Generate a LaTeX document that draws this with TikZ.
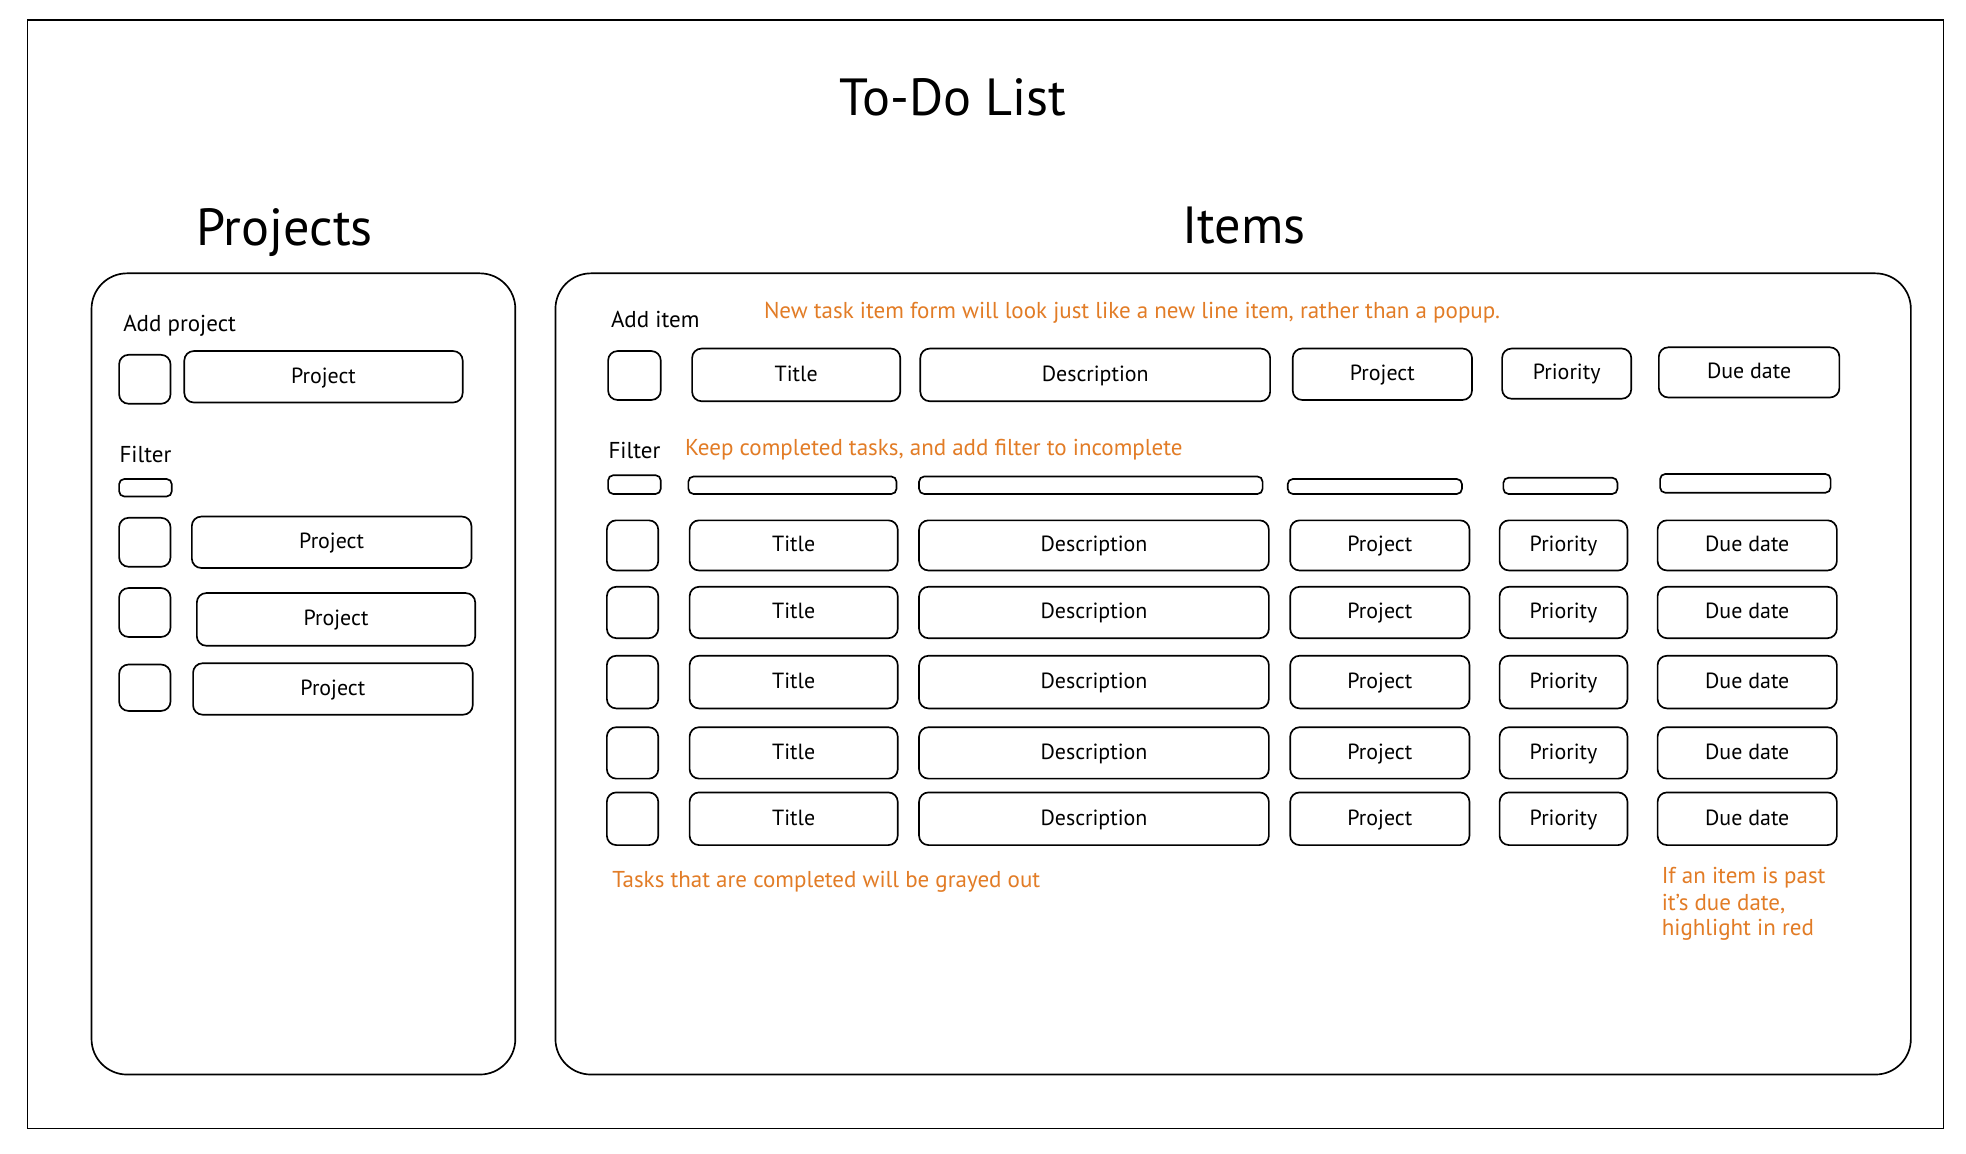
\documentclass[tikz,border=0pt]{standalone}
\usepackage{fontspec}
\setmainfont{PT Sans}
\definecolor{note}{RGB}{226,124,38}
\newcommand\mkbox[7]{\node[#1, minimum width={(#5-#3)*0.6pt}, minimum height={(#6-#4)*0.6pt}] (#2) at ({(#3+#5)/2},{(#4+#6)/2}) {#7};}
\begin{document}
\begin{tikzpicture}[x=0.6pt,y=-0.6pt,
  every node/.style={font=\fontsize{10.5}{12}\selectfont},
  frame/.style={draw, line width=0.8pt},
  panel/.style={draw, line width=0.8pt, rounded corners=17pt},
  box/.style={draw, line width=0.8pt, rounded corners=4.5pt, inner sep=0pt, text height=7.6pt, text depth=1.6pt},
  fbox/.style={draw, line width=0.8pt, rounded corners=2.5pt, inner sep=0pt},
  lbl/.style={anchor=base west, inner sep=0pt, font=\fontsize{11}{13}\selectfont},
  notetext/.style={anchor=base west, inner sep=0pt, text=note, font=\fontsize{11}{13}\selectfont},
  head/.style={anchor=base, inner sep=0pt, font=\fontsize{25}{28}\selectfont}]
\useasboundingbox (0,0) rectangle (1568,920);
\fill[white] (0,0) rectangle (1568,920);
\draw[frame] (22,16) rectangle (1550,900);
\node[head] (title) at (760,92) {To-Do List};
\node[head] (projh) at (227,196) {Projects};
\node[head] (itemh) at (992,194) {Items};
% panels
\draw[panel] (73,218) rectangle (411,857);
\draw[panel] (443,218) rectangle (1524,857);
% left panel
\node[lbl] (addp) at (98,264) {Add project};
\mkbox{box}{pcb0}{95}{283}{136}{322}{}
\mkbox{box}{pp0}{147}{280}{369}{321}{Project}
\node[lbl] (pfilt) at (95,369) {Filter};
\mkbox{fbox}{pf}{95}{382}{137}{396}{}
\mkbox{box}{pcb1}{95}{413}{136}{452}{}
\mkbox{box}{pp1}{153}{412}{376}{453}{Project}
\mkbox{box}{pcb2}{95}{469}{136}{508}{}
\mkbox{box}{pp2}{157}{473}{379}{515}{Project}
\mkbox{box}{pcb3}{95}{530}{136}{567}{}
\mkbox{box}{pp3}{154}{529}{377}{570}{Project}
% items panel
\node[lbl] (addi) at (487,261) {Add item};
\node[notetext] (n1) at (609,254) {New task item form will look just like a new line item, rather than a popup.};
\mkbox{box}{acb}{485}{280}{527}{319}{}
\mkbox{box}{at}{552}{278}{718}{320}{Title}
\mkbox{box}{ad}{734}{278}{1013}{320}{Description}
\mkbox{box}{ap}{1031}{278}{1174}{319}{Project}
\mkbox{box}{apr}{1198}{278}{1301}{318}{Priority}
\mkbox{box}{adu}{1323}{277}{1467}{317}{Due date}
\node[lbl] (ifilt) at (485,366) {Filter};
\node[notetext] (n2) at (546,363) {Keep completed tasks, and add filter to incomplete};
\mkbox{fbox}{fcb}{485}{379}{527}{394}{}
\mkbox{fbox}{ft}{549}{380}{715}{394}{}
\mkbox{fbox}{fd}{733}{380}{1007}{394}{}
\mkbox{fbox}{fp}{1027}{382}{1166}{394}{}
\mkbox{fbox}{fpr}{1199}{381}{1290}{394}{}
\mkbox{fbox}{fdu}{1324}{378}{1460}{393}{}
\foreach \r/\ya/\yb in {1/415/455, 2/468/509, 3/523/565, 4/580/621, 5/632/674}{
  \mkbox{box}{cb\r}{484}{\ya}{525}{\yb}{}
  \mkbox{box}{t\r}{550}{\ya}{716}{\yb}{Title}
  \mkbox{box}{d\r}{733}{\ya}{1012}{\yb}{Description}
  \mkbox{box}{p\r}{1029}{\ya}{1172}{\yb}{Project}
  \mkbox{box}{pr\r}{1196}{\ya}{1298}{\yb}{Priority}
  \mkbox{box}{du\r}{1322}{\ya}{1465}{\yb}{Due date}
}
\node[notetext] (n3) at (488,708) {Tasks that are completed will be grayed out};
\node[notetext] (n4a) at (1325,705) {If an item is past};
\node[notetext] (n4b) at (1325,726) {it's due date,};
\node[notetext] (n4c) at (1325,746) {highlight in red};
\end{tikzpicture}
\end{document}
